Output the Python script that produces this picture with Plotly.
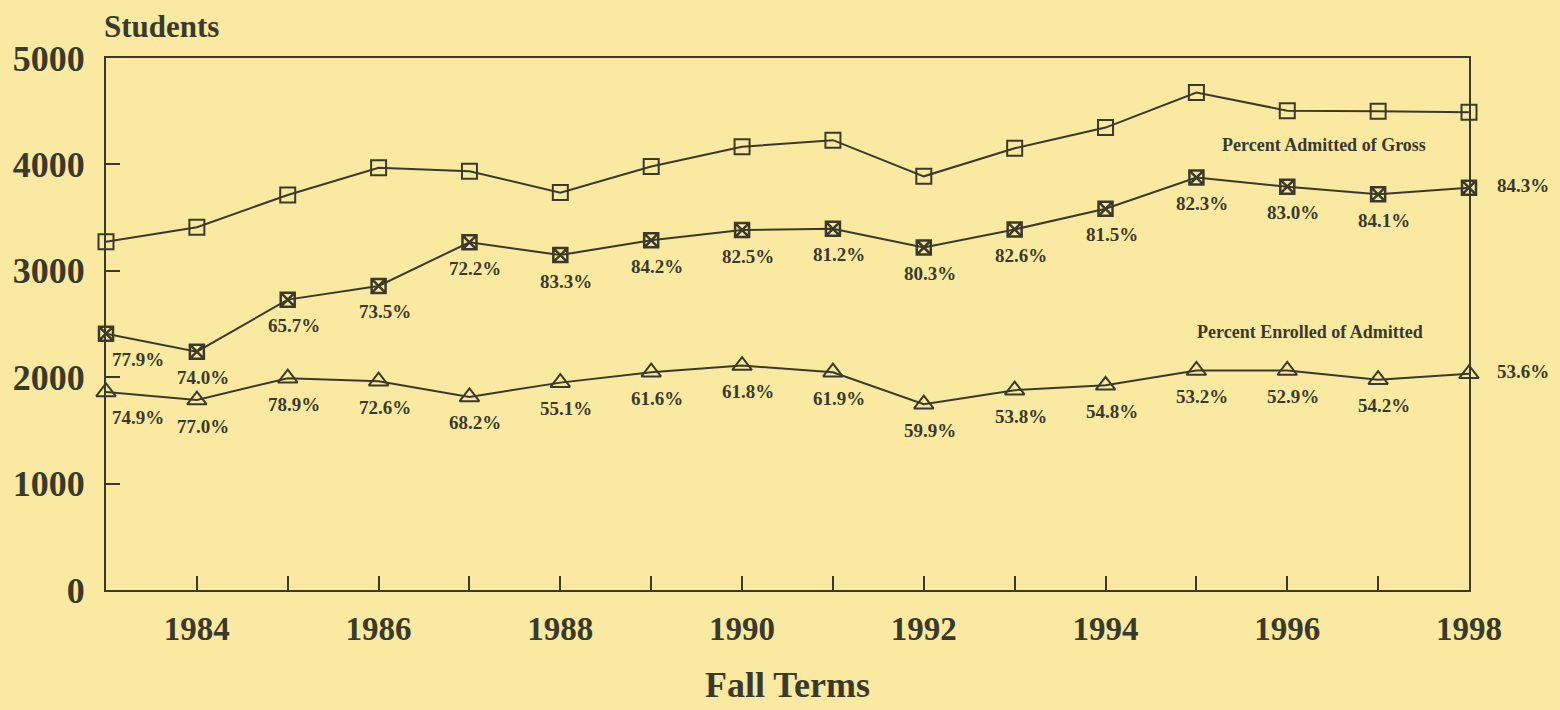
import plotly.graph_objects as go

years = list(range(1983, 1999))
gross = [3272, 3410, 3713, 3969, 3935, 3735, 3981, 4166, 4228, 3888, 4152, 4346, 4675, 4505, 4499, 4490]
admitted = [2409, 2240, 2729, 2858, 3268, 3148, 3287, 3383, 3395, 3219, 3389, 3583, 3876, 3790, 3719, 3781]
enrolled = [1862, 1785, 1991, 1963, 1815, 1949, 2047, 2109, 2047, 1746, 1878, 1924, 2063, 2063, 1977, 2032]
admit_pct = ["77.9%", "74.0%", "65.7%", "73.5%", "72.2%", "83.3%", "84.2%", "82.5%", "81.2%", "80.3%",
             "82.6%", "81.5%", "82.3%", "83.0%", "84.1%", "84.3%"]
enroll_pct = ["74.9%", "77.0%", "78.9%", "72.6%", "68.2%", "55.1%", "61.6%", "61.8%", "61.9%", "59.9%",
              "53.8%", "54.8%", "53.2%", "52.9%", "54.2%", "53.6%"]
y_ticks = [0, 1000, 2000, 3000, 4000, 5000]
x_label_years = [1984, 1986, 1988, 1990, 1992, 1994, 1996, 1998]

INK = "#3a3a2c"
BG = "#FAE9A1"
FONT = "Liberation Serif"

fig = go.Figure()
fig.add_trace(go.Scatter(x=years, y=gross, mode="lines+markers", cliponaxis=False,
                         line=dict(color=INK, width=2),
                         marker=dict(symbol="square-open", size=15, color=INK, line=dict(width=2, color=INK))))
fig.add_trace(go.Scatter(x=years, y=admitted, mode="lines+markers", cliponaxis=False,
                         line=dict(color=INK, width=2),
                         marker=dict(symbol="square-x-open", size=14, color=INK, line=dict(width=2.5, color=INK))))
fig.add_trace(go.Scatter(x=years, y=enrolled, mode="lines+markers", cliponaxis=False,
                         line=dict(color=INK, width=2),
                         marker=dict(symbol="triangle-up-open", size=17, color=INK, line=dict(width=2, color=INK))))

annotations = []
n = len(years)
for series, labels in ((admitted, admit_pct), (enrolled, enroll_pct)):
    for i, (yr, v, t) in enumerate(zip(years, series, labels)):
        xs, ys = 6, -26
        if i == 0:
            xs = 32
        if i == n - 1:
            xs, ys = 54, 2
        annotations.append(dict(x=yr, y=v, text=t, showarrow=False, xshift=xs, yshift=ys,
                                font=dict(family=FONT, size=19, color=INK, weight="bold")))

annotations.append(dict(x=1996.4, y=4180, text="Percent Admitted of Gross", showarrow=False,
                        font=dict(family=FONT, size=18, color=INK, weight="bold")))
annotations.append(dict(x=1996.25, y=2424, text="Percent Enrolled of Admitted", showarrow=False,
                        font=dict(family=FONT, size=18, color=INK, weight="bold")))
annotations.append(dict(xref="paper", yref="paper", x=0, y=1, xanchor="left", yanchor="bottom",
                        xshift=-4, yshift=12, text="Students", showarrow=False,
                        font=dict(family=FONT, size=31, color=INK, weight="bold")))

fig.update_layout(
    width=1560, height=710,
    paper_bgcolor=BG, plot_bgcolor=BG,
    margin=dict(l=106, r=91, t=58, b=113),
    showlegend=False,
    annotations=annotations,
    font=dict(family=FONT, color=INK),
)
fig.update_xaxes(range=[1983, 1998], tickmode="array", tickvals=years,
                 ticktext=[str(y) if y in x_label_years else "" for y in years],
                 ticks="inside", ticklen=14, tickwidth=2, tickcolor=INK,
                 showline=True, linecolor=INK, linewidth=2, mirror=True,
                 showgrid=False, zeroline=False, ticklabelstandoff=8,
                 tickfont=dict(family=FONT, size=33, color=INK, weight="bold"),
                 title=dict(text="Fall Terms", standoff=26,
                            font=dict(family=FONT, size=36, color=INK, weight="bold")))
fig.update_yaxes(range=[0, 5000], tickmode="array", tickvals=y_ticks,
                 ticks="inside", ticklen=14, tickwidth=2, tickcolor=INK,
                 showline=True, linecolor=INK, linewidth=2, mirror=True,
                 showgrid=False, zeroline=False, ticklabelstandoff=12,
                 tickfont=dict(family=FONT, size=36, color=INK, weight="bold"))

fig.write_html("out.html", config={"displayModeBar": False},
               post_script="document.body.style.margin='0';document.body.style.background='%s';" % BG)
